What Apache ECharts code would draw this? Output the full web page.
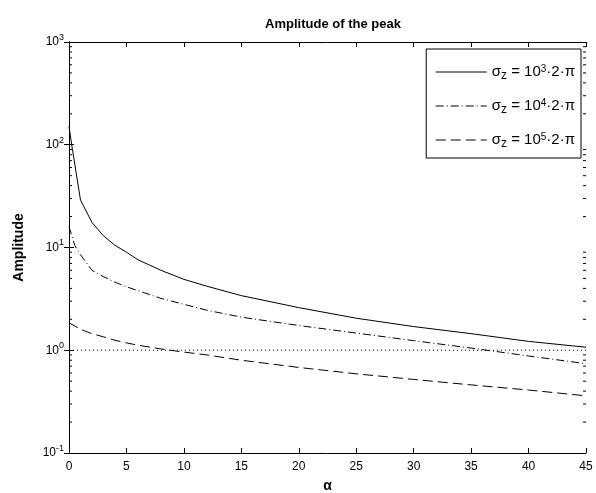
<!DOCTYPE html>
<html>
<head>
<meta charset="utf-8">
<script src="https://cdn.jsdelivr.net/npm/echarts@6/dist/echarts.min.js"></script>
<style>html,body{margin:0;padding:0;background:#fff;}#c{width:596px;height:493px;}</style>
</head>
<body>
<div id="c"></div>
<script>
// ---- data ----
var alphaSolid   = [0, 0.3, 1, 2, 3, 4, 5, 6, 8, 10, 12, 15, 20, 25, 30, 35, 40, 45];
var ampSolid     = [150, 90, 29, 17.5, 13, 10.5, 9, 7.6, 6.0, 4.9, 4.2, 3.4, 2.6, 2.05, 1.7, 1.45, 1.22, 1.07];
var alphaDashDot = [0, 0.5, 1, 2, 3, 4, 5, 6, 8, 10, 12, 15, 20, 25, 30, 35, 40, 45];
var ampDashDot   = [16, 10.5, 8.5, 6.0, 5.2, 4.6, 4.15, 3.8, 3.2, 2.8, 2.45, 2.1, 1.74, 1.47, 1.24, 1.05, 0.88, 0.74];
var alphaDashed  = [0, 1, 2, 3, 4, 5, 6, 8, 10, 12, 15, 20, 25, 30, 35, 40, 45];
var ampDashed    = [1.85, 1.6, 1.45, 1.35, 1.25, 1.18, 1.12, 1.03, 0.96, 0.9, 0.8, 0.68, 0.59, 0.52, 0.46, 0.41, 0.36];
var refAlpha     = [0, 45];
var refAmp       = [1, 1];
var sigmaExps    = [3, 4, 5];
var seriesNames  = ['s3', 's4', 's5'];
var xTicks       = [0, 5, 10, 15, 20, 25, 30, 35, 40, 45];
var yRange       = [0.1, 1000];
var minorTickValues = [0.2, 0.3, 0.4, 0.5, 0.6, 0.7, 0.8, 0.9,
                       2, 3, 4, 5, 6, 7, 8, 9,
                       20, 30, 40, 50, 60, 70, 80, 90,
                       200, 300, 400, 500, 600, 700, 800, 900];

function pairs(xs, ys) { return xs.map(function (x, i) { return [x, ys[i]]; }); }

var font = 'Liberation Sans, Arial, Helvetica, sans-serif';
var chart = echarts.init(document.getElementById('c'), null, {renderer: 'canvas'});
var xMin = xTicks[0], xMax = xTicks[xTicks.length - 1];

var axisLineStyle = {lineStyle: {color: '#000', width: 1}};
var yLabelFmt = function (v) {
  var e = Math.round(Math.log10(v));
  return '10{sup|' + e + '}';
};
var yRich = {sup: {fontSize: 9, verticalAlign: 'bottom', padding: [0, 0, 9, 0], fontFamily: font, color: '#000'}};

var option = {
  backgroundColor: '#fff',
  animation: false,
  title: {
    text: 'Amplitude of the peak',
    left: 328, textAlign: 'center', top: 13,
    textStyle: {fontFamily: font, fontWeight: 'bold', fontSize: 13, color: '#000'}
  },
  grid: {left: 69, right: 10, top: 42, bottom: 40, containLabel: false, outerBoundsMode: 'none'},
  legend: {
    data: seriesNames,
    orient: 'vertical',
    right: 15, top: 49,
    padding: [15, 6, 8, 9],
    itemGap: 16,
    itemWidth: 51, itemHeight: 14,
    itemTextGap: 3,
    borderColor: '#000', borderWidth: 1,
    backgroundColor: '#fff',
    itemStyle: {opacity: 0},
    lineStyle: {width: 1},
    textStyle: {fontFamily: font, fontSize: 15, color: '#000',
      rich: {
        sub: {fontSize: 12, verticalAlign: 'top', padding: [8, 0, 0, 0], fontFamily: font, color: '#000'},
        sup: {fontSize: 10, verticalAlign: 'bottom', padding: [0, 0, 8, 0], fontFamily: font, color: '#000'}
      }},
    formatter: function (name) {
      var i = seriesNames.indexOf(name);
      return 'σ{sub|z} = 10{sup|' + sigmaExps[i] + '}·2·π';
    }
  },
  xAxis: [{
    type: 'value', min: xMin, max: xMax, interval: 5,
    position: 'bottom',
    axisLine: axisLineStyle,
    axisTick: {inside: true, length: 5, lineStyle: {color: '#000'}},
    axisLabel: {fontFamily: font, fontSize: 12, color: '#000', margin: 8},
    splitLine: {show: false},
    name: 'α', nameLocation: 'middle', nameGap: 26,
    nameTextStyle: {fontFamily: font, fontWeight: 'bold', fontSize: 14, color: '#000'}
  }, {
    type: 'value', min: xMin, max: xMax, interval: 5,
    position: 'top',
    axisLine: axisLineStyle,
    axisTick: {inside: true, length: 5, lineStyle: {color: '#000'}},
    axisLabel: {show: false},
    splitLine: {show: false}
  }],
  yAxis: [{
    type: 'log', logBase: 10, min: yRange[0], max: yRange[1],
    position: 'left',
    axisLine: axisLineStyle,
    axisTick: {inside: true, length: 5, lineStyle: {color: '#000'}},
    axisLabel: {fontFamily: font, fontSize: 12, color: '#000', margin: 5, formatter: yLabelFmt, rich: yRich},
    splitLine: {show: false},
    name: 'Amplitude', nameLocation: 'middle', nameGap: 43, nameRotate: 90,
    nameTextStyle: {fontFamily: font, fontWeight: 'bold', fontSize: 14, color: '#000'}
  }, {
    type: 'log', logBase: 10, min: yRange[0], max: yRange[1],
    position: 'right',
    axisLine: axisLineStyle,
    axisTick: {inside: true, length: 5, lineStyle: {color: '#000'}},
    axisLabel: {show: false},
    splitLine: {show: false}
  }],
  series: [{
    name: seriesNames[0], type: 'line', symbol: 'none',
    data: pairs(alphaSolid, ampSolid),
    lineStyle: {color: '#000', width: 1, type: 'solid'},
    itemStyle: {color: '#000'}
  }, {
    name: seriesNames[1], type: 'line', symbol: 'none',
    data: pairs(alphaDashDot, ampDashDot),
    lineStyle: {color: '#000', width: 1, type: [8, 3, 1, 3]},
    itemStyle: {color: '#000'}
  }, {
    name: seriesNames[2], type: 'line', symbol: 'none',
    data: pairs(alphaDashed, ampDashed),
    lineStyle: {color: '#000', width: 1, type: [10, 5]},
    itemStyle: {color: '#000'}
  }, {
    name: 'ref', type: 'line', symbol: 'none',
    data: pairs(refAlpha, refAmp),
    lineStyle: {color: '#000', width: 1, type: [1, 3]},
    itemStyle: {color: '#000'}
  }, {
    name: 'minorTicks', type: 'custom', silent: true, clip: false, z: 5,
    data: minorTickValues.map(function (v) { return [xMin, v]; }),
    renderItem: function (params, api) {
      var v = api.value(1);
      var l = api.coord([xMin, v]);
      var r = api.coord([xMax, v]);
      var st = {stroke: '#000', lineWidth: 1};
      return {
        type: 'group',
        children: [
          {type: 'line', shape: {x1: l[0], y1: l[1], x2: l[0] + 3, y2: l[1]}, style: st},
          {type: 'line', shape: {x1: r[0] - 3, y1: r[1], x2: r[0], y2: r[1]}, style: st}
        ]
      };
    }
  }]
};
chart.setOption(option);
</script>
</body>
</html>
